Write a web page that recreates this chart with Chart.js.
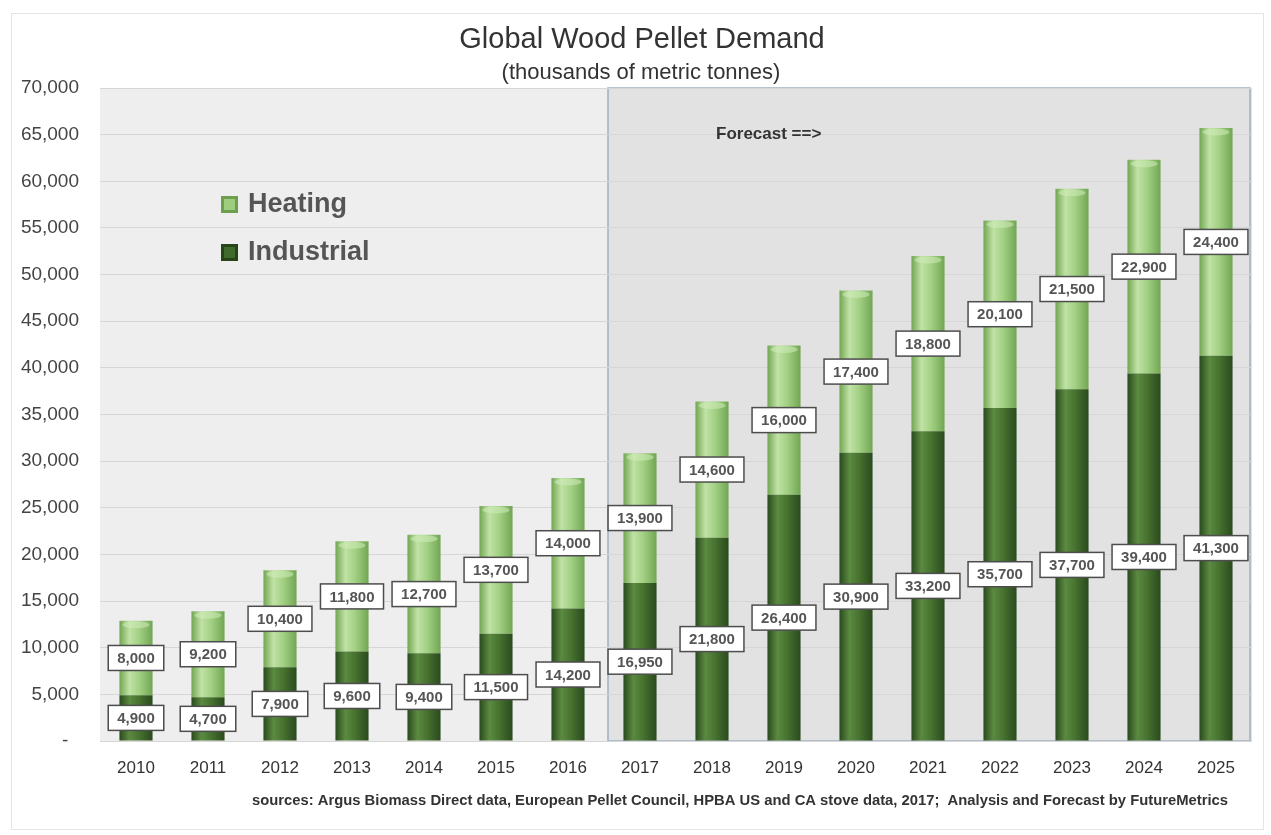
<!DOCTYPE html>
<html>
<head>
<meta charset="utf-8">
<script src="https://cdn.jsdelivr.net/npm/chart.js@4"></script>
<style>
  html, body { margin: 0; padding: 0; background: #ffffff; }
  #wrap { width: 1271px; height: 835px; }
</style>
</head>
<body>
<div id="wrap"><canvas id="pellets" width="1271" height="835"></canvas></div>
<script>
// data
const years = ['2010', '2011', '2012', '2013', '2014', '2015', '2016', '2017',
               '2018', '2019', '2020', '2021', '2022', '2023', '2024', '2025'];
const industrial = [4900, 4700, 7900, 9600, 9400, 11500, 14200, 16950,
                    21800, 26400, 30900, 33200, 35700, 37700, 39400, 41300];
const heating = [8000, 9200, 10400, 11800, 12700, 13700, 14000, 13900,
                 14600, 16000, 17400, 18800, 20100, 21500, 22900, 24400];
const yTicks = [0, 5000, 10000, 15000, 20000, 25000, 30000, 35000,
                40000, 45000, 50000, 55000, 60000, 65000, 70000];
const forecastStart = '2017';

const BAR_PCT = 0.46;

// cylinder-ish horizontal gradient per bar
function barGradient(edge, light, mid) {
    return (c) => {
        const chart = c.chart;
        const x = chart.scales.x;
        if (!x || c.type !== 'data') return mid;
        const cx = x.getPixelForValue(c.dataIndex);
        const half = (x.width / years.length) * BAR_PCT / 2;
        if (!isFinite(cx) || !isFinite(half) || half <= 0) return mid;
        const g = chart.ctx.createLinearGradient(cx - half, 0, cx + half, 0);
        g.addColorStop(0, edge);
        g.addColorStop(0.3, light);
        g.addColorStop(0.6, mid);
        g.addColorStop(1, edge);
        return g;
    };
}

const decorPlugin = {
    id: 'decor',
    beforeDraw(chart) {
        const { ctx, chartArea: a, scales } = chart;
        ctx.save();
        // faint outer frame
        ctx.strokeStyle = '#e4e4e4';
        ctx.lineWidth = 1;
        ctx.strokeRect(11.5, 13.5, 1252, 816);
        // plot background
        ctx.fillStyle = '#eeeeee';
        ctx.fillRect(a.left, a.top, a.right - a.left, a.bottom - a.top);
        // forecast box
        const i = years.indexOf(forecastStart);
        const fx = (scales.x.getPixelForValue(i - 1) + scales.x.getPixelForValue(i)) / 2 + 4;
        ctx.fillStyle = '#e2e2e2';
        ctx.fillRect(fx, a.top, a.right - fx, a.bottom - a.top);
        ctx.strokeStyle = '#9fb0c2';
        ctx.lineWidth = 1.5;
        ctx.strokeRect(fx, a.top, a.right - fx - 2, a.bottom - a.top);
        // titles
        ctx.fillStyle = '#333333';
        ctx.textAlign = 'center';
        ctx.textBaseline = 'middle';
        ctx.font = '29px "Liberation Sans", Arial, sans-serif';
        ctx.fillText('Global Wood Pellet Demand', 642, 40);
        ctx.font = '22px "Liberation Sans", Arial, sans-serif';
        ctx.fillText('(thousands of metric tonnes)', 641, 73);
        // source note
        ctx.textAlign = 'right';
        ctx.fillStyle = '#333333';
        ctx.font = 'bold 14.8px "Liberation Sans Narrow", "Liberation Sans", Arial, sans-serif';
        ctx.fillText('sources: Argus Biomass Direct data, European Pellet Council, HPBA US and CA stove data, 2017;  Analysis and Forecast by FutureMetrics', 1228, 801);
        ctx.restore();
    },
    afterDatasetsDraw(chart) {
        const { ctx, chartArea: a, scales } = chart;
        ctx.save();
        // soft top cap on each stack
        const top = chart.getDatasetMeta(1);
        top.data.forEach(bar => {
            const p = bar.getProps(['x', 'y', 'width'], true);
            ctx.fillStyle = 'rgba(210, 236, 188, 0.55)';
            ctx.beginPath();
            ctx.ellipse(p.x, p.y + 4, p.width / 2 - 3, 3.5, 0, 0, Math.PI * 2);
            ctx.fill();
        });

        // forecast note
        ctx.fillStyle = '#333333';
        ctx.font = 'bold 17px "Liberation Sans", Arial, sans-serif';
        ctx.textAlign = 'left';
        ctx.textBaseline = 'middle';
        ctx.fillText('Forecast ==>', scales.x.getPixelForValue(8) + 4, scales.y.getPixelForValue(65000));

        // legend (drawn inside plot area)
        const items = [
            { text: 'Heating', color: '#9fcd7e', edge: '#6e9f4f', y: 204 },
            { text: 'Industrial', color: '#3f6b2c', edge: '#274519', y: 252 }
        ];
        ctx.font = 'bold 27px "Liberation Sans", Arial, sans-serif';
        items.forEach(it => {
            ctx.fillStyle = it.edge;
            ctx.fillRect(a.left + 121, it.y - 8, 17, 17);
            ctx.fillStyle = it.color;
            ctx.fillRect(a.left + 124, it.y - 5, 11, 11);
            ctx.fillStyle = '#555555';
            ctx.fillText(it.text, a.left + 148, it.y + 1);
        });

        // boxed value labels
        ctx.font = 'bold 15px "Liberation Sans", Arial, sans-serif';
        ctx.textAlign = 'center';
        chart.data.datasets.forEach((ds, di) => {
            const meta = chart.getDatasetMeta(di);
            meta.data.forEach((bar, i) => {
                const p = bar.getProps(['x', 'y', 'base'], true);
                const cy = (p.y + p.base) / 2;
                const txt = ds.data[i].toLocaleString('en-US');
                const w = ctx.measureText(txt).width + 18;
                const h = 25;
                ctx.fillStyle = '#ffffff';
                ctx.fillRect(p.x - w / 2, cy - h / 2, w, h);
                ctx.strokeStyle = '#4d4d4d';
                ctx.lineWidth = 1.5;
                ctx.strokeRect(p.x - w / 2, cy - h / 2, w, h);
                ctx.fillStyle = '#555555';
                ctx.fillText(txt, p.x, cy + 1);
            });
        });
        ctx.restore();
    }
};

new Chart(document.getElementById('pellets'), {
    type: 'bar',
    data: {
        labels: years,
        datasets: [
            {
                label: 'Industrial',
                data: industrial,
                backgroundColor: barGradient('#2a4a1d', '#5b8a41', '#47722f'),
                barPercentage: BAR_PCT,
                categoryPercentage: 1
            },
            {
                label: 'Heating',
                data: heating,
                backgroundColor: barGradient('#72a653', '#c0e2a5', '#a2d083'),
                barPercentage: BAR_PCT,
                categoryPercentage: 1
            }
        ]
    },
    options: {
        responsive: false,
        animation: false,
        events: [],
        layout: { padding: { top: 88, right: 19, bottom: 0, left: 0 } },
        scales: {
            x: {
                stacked: true,
                grid: { display: false, drawTicks: false },
                border: { display: false },
                ticks: {
                    color: '#333333',
                    padding: 17,
                    font: { family: '"Liberation Sans Narrow", "Liberation Sans", Arial', size: 17 }
                },
                afterFit: s => { s.height = 94; }
            },
            y: {
                stacked: true,
                min: 0,
                max: 70000,
                afterBuildTicks: s => { s.ticks = yTicks.map(v => ({ value: v })); },
                grid: { color: '#d6d6d6', drawTicks: false },
                border: { display: false },
                ticks: {
                    color: '#444444',
                    padding: 21,
                    font: { family: '"Liberation Sans", Arial', size: 19 },
                    callback: v => v === 0 ? '-  ' : v.toLocaleString('en-US')
                },
                afterFit: s => { s.width = 100; }
            }
        },
        plugins: {
            legend: { display: false },
            tooltip: { enabled: false }
        }
    },
    plugins: [decorPlugin]
});
</script>
</body>
</html>
